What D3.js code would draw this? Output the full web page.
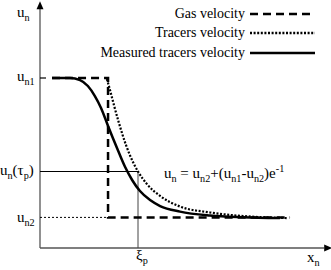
<!DOCTYPE html>
<html>
<head>
<meta charset="utf-8">
<script src="https://cdn.jsdelivr.net/npm/d3@7"></script>
<style>
  body { margin: 0; background: #fff; }
  svg text { font-family: "Liberation Serif", "DejaVu Serif", "Times New Roman", serif; fill: #000; }
</style>
</head>
<body>
<script>
// dimensioni
var width = 331, height = 270;

// livelli di velocita' e posizione caratteristica
var un1 = 1.0, un2 = 0.18, unTau = 0.45, xiP = 3.5;

// velocita' del gas (gradino)
var gasX = [0.43, 2.43, 2.43, 8.93];
var gasY = [1.0, 1.0, 0.18, 0.18];

// velocita' dei traccianti
var tracX = [2.39, 2.5, 2.64, 2.82, 3.07, 3.32, 3.5, 3.82, 4.29, 5.0, 6.07, 7.25, 8.82];
var tracY = [0.994, 0.929, 0.841, 0.735, 0.606, 0.506, 0.45, 0.376, 0.306, 0.244, 0.209, 0.188, 0.176];

// velocita' misurata dei traccianti
var measX = [0.43, 1.07, 1.43, 1.71, 1.96, 2.18, 2.43, 2.75, 3.04, 3.29, 3.57, 3.93, 4.29, 5.0, 6.07, 7.25, 8.57];
var measY = [1.0, 1.0, 0.988, 0.953, 0.894, 0.824, 0.718, 0.588, 0.476, 0.40, 0.335, 0.282, 0.247, 0.214, 0.191, 0.181, 0.176];

// legenda
var legendLabels = ["Gas velocity", "Tracers velocity", "Measured tracers velocity"];
var legendDash = ["8,5", "2,1.6", null];

var svg = d3.select("body").append("svg")
    .attr("width", width)
    .attr("height", height)
    .attr("font-family", "Liberation Serif, DejaVu Serif, serif");

var x = d3.scaleLinear().domain([0, 10]).range([40, 320]);
var y = d3.scaleLinear().domain([0, 1]).range([248, 78]);

var zip = function (xs, ys) { return xs.map(function (v, i) { return [v, ys[i]]; }); };

// assi con frecce
svg.append("line")
    .attr("x1", x(0)).attr("y1", y(0)).attr("x2", x(0)).attr("y2", y(1.41))
    .attr("stroke", "#555").attr("stroke-width", 1.3);
svg.append("line")
    .attr("x1", x(0)).attr("y1", y(0)).attr("x2", x(10.15)).attr("y2", y(0))
    .attr("stroke", "#555").attr("stroke-width", 1.3);
svg.append("path")
    .attr("d", "M" + x(0) + "," + (y(1.44) - 2) + "l-3.5,8l7,0z")
    .attr("fill", "#000");
svg.append("path")
    .attr("d", "M" + (x(10.15) + 8) + "," + y(0) + "l-8,-3.5l0,7z")
    .attr("fill", "#000");

// linee di riferimento
svg.append("line")
    .attr("x1", x(0)).attr("y1", y(un1)).attr("x2", x(0) + 6).attr("y2", y(un1))
    .attr("stroke", "#000").attr("stroke-width", 1.2);
svg.append("line")
    .attr("x1", x(0)).attr("y1", y(unTau)).attr("x2", x(xiP)).attr("y2", y(unTau))
    .attr("stroke", "#000").attr("stroke-width", 1);
svg.append("line")
    .attr("x1", x(xiP)).attr("y1", y(unTau)).attr("x2", x(xiP)).attr("y2", y(0))
    .attr("stroke", "#444").attr("stroke-width", 1);
svg.append("line")
    .attr("x1", x(0)).attr("y1", y(un2)).attr("x2", x(gasX[1])).attr("y2", y(un2))
    .attr("stroke", "#000").attr("stroke-width", 1).attr("stroke-dasharray", "2,2");

// curve
var curve = d3.line()
    .x(function (d) { return x(d[0]); })
    .y(function (d) { return y(d[1]); })
    .curve(d3.curveMonotoneX);
var straight = d3.line()
    .x(function (d) { return x(d[0]); })
    .y(function (d) { return y(d[1]); });

svg.append("path").datum(zip(gasX, gasY))
    .attr("d", straight).attr("fill", "none")
    .attr("stroke", "#000").attr("stroke-width", 2.5).attr("stroke-dasharray", legendDash[0]);
svg.append("path").datum(zip(tracX, tracY))
    .attr("d", curve).attr("fill", "none")
    .attr("stroke", "#000").attr("stroke-width", 2.2).attr("stroke-dasharray", legendDash[1]);
svg.append("path").datum(zip(measX, measY))
    .attr("d", curve).attr("fill", "none")
    .attr("stroke", "#000").attr("stroke-width", 2.5);

// legenda
var legend = svg.append("g").selectAll("g")
    .data(legendLabels)
    .enter().append("g")
    .attr("transform", function (d, i) { return "translate(0," + [14, 33, 53][i] + ")"; });
legend.append("text")
    .attr("x", 245).attr("y", 4)
    .attr("text-anchor", "end")
    .style("font-size", "14px")
    .text(function (d) { return d; });
legend.append("line")
    .attr("x1", 250).attr("x2", 315).attr("y1", 0).attr("y2", 0)
    .attr("stroke", "#000").attr("stroke-width", 2.3)
    .attr("stroke-dasharray", function (d, i) { return legendDash[i]; });

// testo con pedici / apici
function label(px, py, parts, size) {
    var t = svg.append("text").attr("x", px).attr("y", py).style("font-size", size + "px");
    var shift = 0;
    parts.forEach(function (p) {
        var target = p[1] === "sub" ? 4 : p[1] === "sup" ? -6 : 0;
        t.append("tspan")
            .attr("dy", target - shift)
            .style("font-size", (p[1] ? size * 0.68 : size) + "px")
            .text(p[0]);
        shift = target;
    });
    return t;
}

label(17, 17, [["u"], ["n", "sub"]], 15);
label(17, 81, [["u"], ["n1", "sub"]], 15);
label(0, 175, [["u"], ["n", "sub"], ["("], ["τ"], ["p", "sub"], [")"]], 15);
label(17, 222, [["u"], ["n2", "sub"]], 15);
label(x(xiP) - 2, 260, [["ξ"], ["p", "sub"]], 15);
label(307, 262, [["x"], ["n", "sub"]], 15);
label(164, 178, [["u"], ["n", "sub"], [" = u"], ["n2", "sub"], ["+(u"], ["n1", "sub"], ["-u"], ["n2", "sub"], [")e"], ["-1", "sup"]], 15);
</script>
</body>
</html>
